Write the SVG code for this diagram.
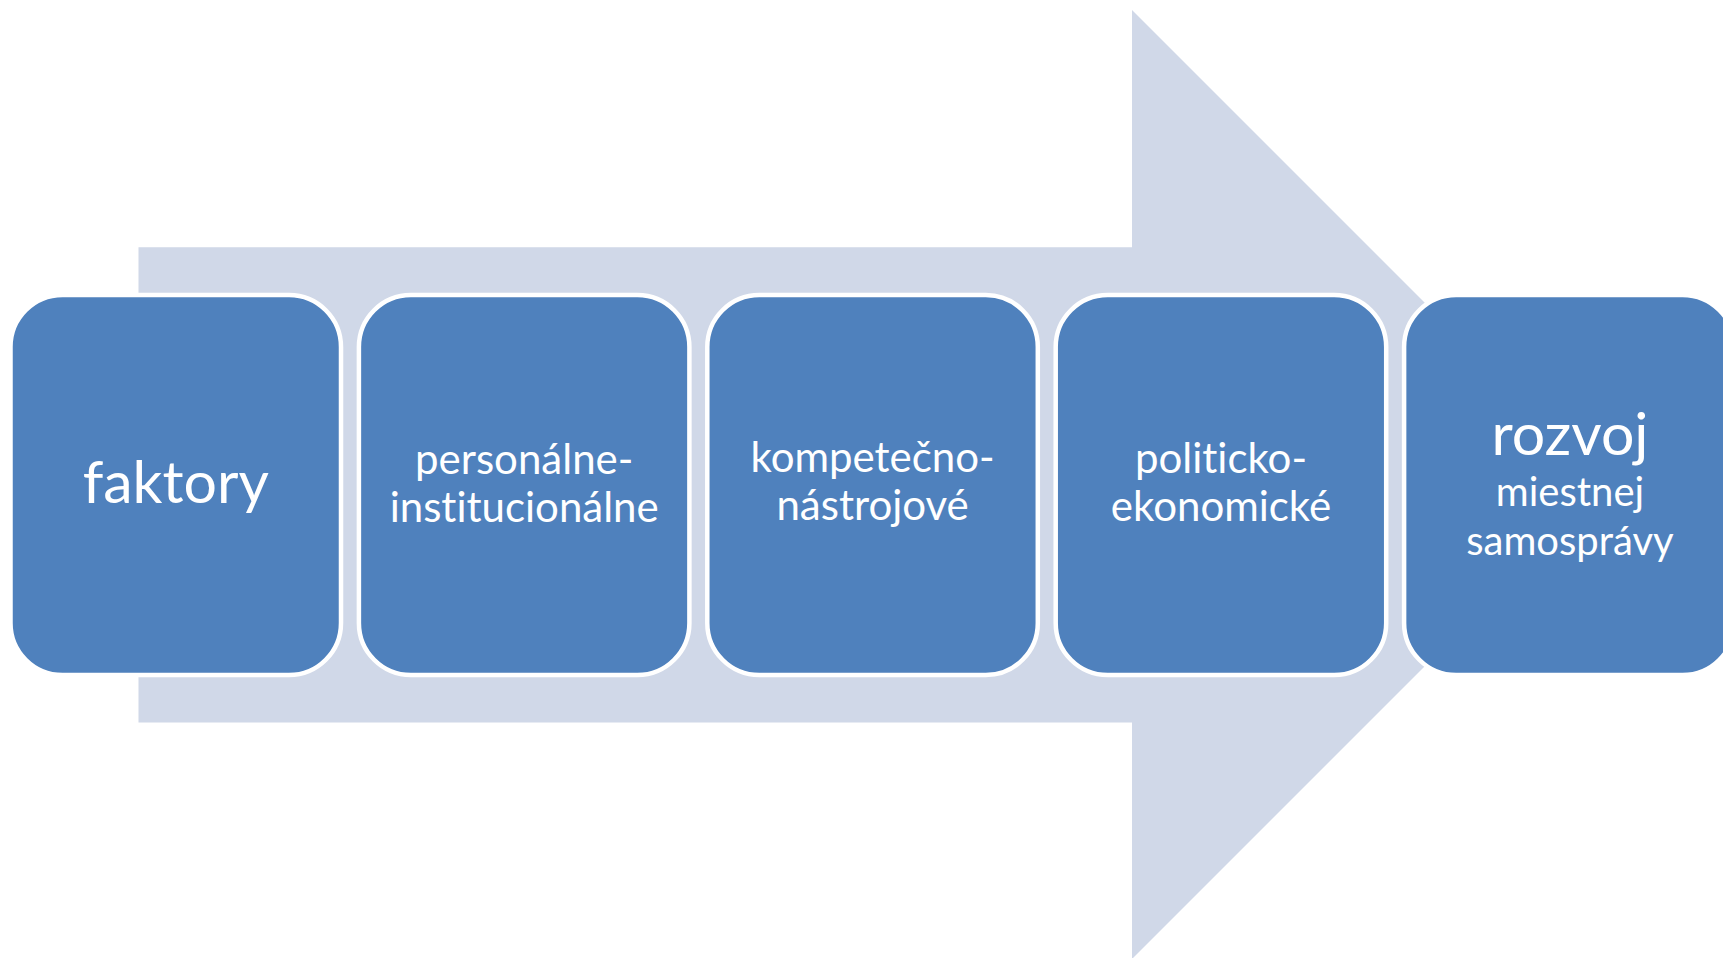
<svg xmlns="http://www.w3.org/2000/svg" width="1723" height="958" viewBox="0 0 1723 958">
<style>
.box{fill:#4F81BD;stroke:#FFFFFF;stroke-width:4.5}
.t{fill:#FFFFFF;font-family:Lato,"Open Sans","Liberation Sans",sans-serif;text-anchor:middle;font-variant-ligatures:none;font-feature-settings:"liga" 0,"clig" 0}
.big{font-size:59px}
.mid{font-size:42px}
.sm{font-size:40px}
</style>
<rect width="1723" height="958" fill="#FFFFFF"/>
<g id="arrow">
<path d="M138.5,247.3 H1132 V10 L1606.5,484.5 L1132,959 V722.5 H138.5 Z" fill="#D0D8E8"/>
</g>
<g id="n1">
<rect class="box" x="10.5" y="295" width="330.5" height="380" rx="52"/>
<text class="t big" x="175.8" y="503">faktory</text>
</g>
<g id="n2">
<rect class="box" x="358.9" y="295" width="330.5" height="380" rx="52"/>
<text class="t mid" x="524.2" y="474">personálne-</text>
<text class="t mid" x="524.2" y="522">institucionálne</text>
</g>
<g id="n3">
<rect class="box" x="707.3" y="295" width="330.5" height="380" rx="52"/>
<text class="t mid" x="872.6" y="472">kompetečno-</text>
<text class="t mid" x="872.6" y="520">nástrojové</text>
</g>
<g id="n4">
<rect class="box" x="1055.7" y="295" width="330.5" height="380" rx="52"/>
<text class="t mid" x="1221" y="473">politicko-</text>
<text class="t mid" x="1221" y="521">ekonomické</text>
</g>
<g id="n5">
<rect class="box" x="1404.1" y="295" width="330.5" height="380" rx="52"/>
<text class="t big" x="1570" y="455">rozvoj</text>
<text class="t sm" x="1570" y="506">miestnej</text>
<text class="t sm" x="1570" y="555">samosprávy</text>
</g>
<g id="connectors"/>
</svg>
